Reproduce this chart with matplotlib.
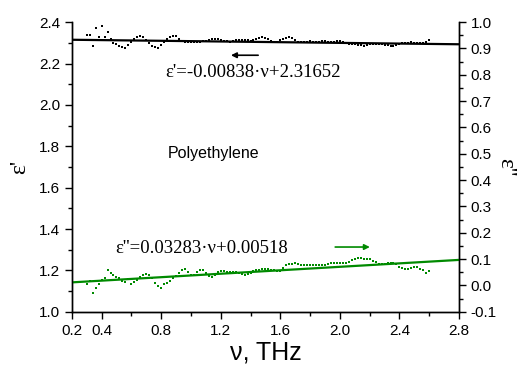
import matplotlib
matplotlib.use("Agg")
import matplotlib.pyplot as plt
from matplotlib.ticker import FixedLocator, MultipleLocator, FormatStrFormatter

plt.rcParams['font.family'] = ['Liberation Sans', 'DejaVu Sans']

# frequency grid (THz)
freq = [0.30, 0.32, 0.34, 0.36, 0.38, 0.40, 0.42, 0.44, 0.46, 0.48,
        0.50, 0.52, 0.54, 0.56, 0.58, 0.60, 0.62, 0.64, 0.66, 0.68,
        0.70, 0.72, 0.74, 0.76, 0.78, 0.80, 0.82, 0.84, 0.86, 0.88,
        0.90, 0.92, 0.94, 0.96, 0.98, 1.00, 1.02, 1.04, 1.06, 1.08,
        1.10, 1.12, 1.14, 1.16, 1.18, 1.20, 1.22, 1.24, 1.26, 1.28,
        1.30, 1.32, 1.34, 1.36, 1.38, 1.40, 1.42, 1.44, 1.46, 1.48,
        1.50, 1.52, 1.54, 1.56, 1.58, 1.60, 1.62, 1.64, 1.66, 1.68,
        1.70, 1.72, 1.74, 1.76, 1.78, 1.80, 1.82, 1.84, 1.86, 1.88,
        1.90, 1.92, 1.94, 1.96, 1.98, 2.00, 2.02, 2.04, 2.06, 2.08,
        2.10, 2.12, 2.14, 2.16, 2.18, 2.20, 2.22, 2.24, 2.26, 2.28,
        2.30, 2.32, 2.34, 2.36, 2.38, 2.40, 2.42, 2.44, 2.46, 2.48,
        2.50, 2.52, 2.54, 2.56, 2.58, 2.60]

# real part eps'
eps_re = [2.336, 2.340, 2.285, 2.372, 2.326, 2.383, 2.328, 2.350, 2.320, 2.300,
          2.292, 2.284, 2.280, 2.274, 2.288, 2.302, 2.318, 2.330, 2.332, 2.328,
          2.312, 2.298, 2.287, 2.279, 2.276, 2.290, 2.303, 2.318, 2.330, 2.335,
          2.331, 2.320, 2.310, 2.305, 2.303, 2.302, 2.303, 2.304, 2.305, 2.307,
          2.310, 2.314, 2.318, 2.320, 2.318, 2.313, 2.310, 2.307, 2.306, 2.309,
          2.312, 2.314, 2.315, 2.314, 2.312, 2.311, 2.312, 2.317, 2.322, 2.326,
          2.324, 2.318, 2.311, 2.305, 2.306, 2.312, 2.318, 2.322, 2.326, 2.321,
          2.312, 2.306, 2.303, 2.304, 2.306, 2.307, 2.305, 2.304, 2.306, 2.308,
          2.307, 2.305, 2.304, 2.306, 2.309, 2.310, 2.306, 2.300, 2.296, 2.293,
          2.292, 2.290, 2.288, 2.287, 2.289, 2.292, 2.294, 2.296, 2.295, 2.293,
          2.291, 2.289, 2.287, 2.286, 2.289, 2.293, 2.297, 2.300, 2.301, 2.302,
          2.300, 2.298, 2.299, 2.301, 2.302, 2.316]

# imaginary part eps''
eps_im = [0.005, 0.017, -0.029, -0.010, 0.005, 0.020, 0.028, 0.059, 0.047, 0.040,
          0.034, 0.028, 0.017, 0.013, 0.025, 0.005, 0.013, 0.022, 0.034, 0.040,
          0.045, 0.040, 0.028, 0.010, -0.003, -0.008, 0.005, 0.010, 0.017, 0.028,
          0.037, 0.047, 0.059, 0.063, 0.052, 0.040, 0.040, 0.050, 0.060, 0.059,
          0.047, 0.036, 0.034, 0.040, 0.050, 0.055, 0.054, 0.050, 0.052, 0.053,
          0.050, 0.046, 0.043, 0.041, 0.043, 0.048, 0.054, 0.058, 0.059, 0.061,
          0.062, 0.062, 0.060, 0.058, 0.056, 0.055, 0.066, 0.078, 0.080, 0.083,
          0.084, 0.081, 0.078, 0.076, 0.077, 0.078, 0.077, 0.076, 0.077, 0.078,
          0.078, 0.080, 0.084, 0.087, 0.087, 0.085, 0.084, 0.087, 0.090, 0.096,
          0.101, 0.103, 0.103, 0.102, 0.101, 0.100, 0.094, 0.088, 0.083, 0.080,
          0.082, 0.085, 0.087, 0.087, 0.082, 0.072, 0.066, 0.063, 0.062, 0.068,
          0.072, 0.070, 0.064, 0.060, 0.047, 0.054]

# linear fits
fit_x = [0.2, 2.8]
fit_re = [-0.00838 * v + 2.31652 for v in fit_x]
fit_im = [0.03283 * v + 0.00518 for v in fit_x]

green = '#008a00'

fig = plt.figure(figsize=(5.24, 3.69), dpi=100)
ax = fig.add_axes([0.137, 0.155, 0.739, 0.785])
ax2 = ax.twinx()

ax.plot(freq, eps_re, 's', color='black', ms=1.8, mew=0)
ax.plot(fit_x, fit_re, '-', color='black', lw=1.6)
ax2.plot(freq, eps_im, 's', color=green, ms=1.8, mew=0)
ax2.plot(fit_x, fit_im, '-', color=green, lw=1.6)

ax.set_xlim(0.2, 2.8)
ax.set_ylim(1.0, 2.4)
ax2.set_ylim(-0.1, 1.0)

ax.xaxis.set_major_locator(FixedLocator([0.2, 0.4, 0.8, 1.2, 1.6, 2.0, 2.4, 2.8]))
ax.xaxis.set_minor_locator(FixedLocator([0.6, 1.0, 1.4, 1.8, 2.2, 2.6]))
ax.xaxis.set_major_formatter(FormatStrFormatter('%.1f'))
ax.yaxis.set_major_locator(MultipleLocator(0.2))
ax.yaxis.set_minor_locator(MultipleLocator(0.1))
ax.yaxis.set_major_formatter(FormatStrFormatter('%.1f'))
ax2.yaxis.set_major_locator(MultipleLocator(0.1))
ax2.yaxis.set_minor_locator(MultipleLocator(0.05))
ax2.yaxis.set_major_formatter(FormatStrFormatter('%.1f'))

for a in (ax, ax2):
    a.spines['top'].set_visible(False)
    a.tick_params(which='major', direction='out', length=5, width=1, labelsize=11)
    a.tick_params(which='minor', direction='out', length=3, width=1)
    for s in a.spines.values():
        s.set_linewidth(1)

ax.set_xlabel('ν, THz', fontsize=18, labelpad=2)
ax.set_ylabel("ε'", fontsize=17, family=['Liberation Serif'], labelpad=6)
ax2.set_ylabel("ε''", fontsize=17, family=['Liberation Serif'], rotation=270, labelpad=14)

# annotations
ax.text(1.42, 2.158, "ε'=-0.00838·ν+2.31652", fontsize=13.5, family=['Liberation Serif'],
        ha='center', va='center')
ax.annotate('', xy=(1.25, 2.24), xytext=(1.47, 2.24),
            arrowprops=dict(arrowstyle='-|>', color='black', lw=1.2, mutation_scale=8))
ax.text(0.845, 1.767, 'Polyethylene', fontsize=11.5, ha='left', va='center')
ax2.text(0.49, 0.142, "ε''=0.03283·ν+0.00518", fontsize=13.5, family=['Liberation Serif'],
         ha='left', va='center')
ax2.annotate('', xy=(2.22, 0.146), xytext=(1.95, 0.146),
             arrowprops=dict(arrowstyle='-|>', color=green, lw=1.2, mutation_scale=8))

fig.savefig('out.png', dpi=100)
